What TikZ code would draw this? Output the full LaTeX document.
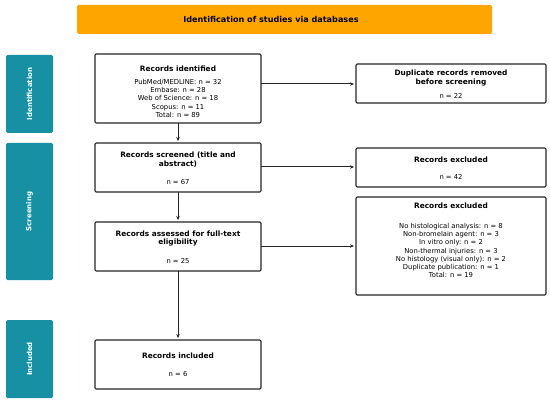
\documentclass[tikz,border=0pt]{standalone}
\usepackage{fontspec}
\setmainfont{DejaVu Sans}
\usetikzlibrary{arrows.meta}
\definecolor{teal1}{HTML}{1690A2}
\definecolor{orange1}{HTML}{FFA500}
\tikzset{
  box/.style={draw=black!85, line width=1.1pt, rounded corners=1.2pt, fill=white},
  sidebar/.style={fill=teal1, rounded corners=1.5pt},
  txt/.style={font=\fontsize{6.8}{8.3}\selectfont, align=center, inner sep=0pt},
  ttl/.style={font=\fontsize{7.4}{8.9}\selectfont\bfseries, align=center, inner sep=0pt},
  bttl/.style={font=\fontsize{8.1}{9.5}\selectfont\bfseries, align=center, inner sep=0pt},
  side/.style={font=\fontsize{7}{8}\selectfont\bfseries, text=white, rotate=90, inner sep=0pt},
  conn/.style={line width=1pt, draw=black!85, -{Stealth[length=4pt,width=3.5pt]}, shorten >=2pt}
}
\begin{document}
\begin{tikzpicture}[x=1pt,y=-1pt]
\useasboundingbox (0,0) rectangle (550,404);
% banner
\fill[orange1, rounded corners=1.5pt] (77,5) rectangle (492,34);
\node[bttl] (banner) at (271,19.5) {Identification of studies via databases};
% side bars
\fill[sidebar] (6,55) rectangle (53,133);
\node[side] (sid) at (29.5,94) {Identification};
\fill[sidebar] (6,143) rectangle (53,280);
\node[side] (ssc) at (29.5,211.5) {Screening};
\fill[sidebar] (6,320) rectangle (53,398);
\node[side] (sin) at (29.5,359) {Included};
% boxes
\draw[box] (95,54) rectangle (261,123);
\node[ttl] (t1) at (178,69) {Records identified};
\node[txt] (l1) at (178,98.2) {PubMed/MEDLINE: n = 32\\Embase: n = 28\\Web of Science: n = 18\\Scopus: n = 11\\Total: n = 89};

\draw[box] (356,64) rectangle (546,103);
\node[ttl] (t2) at (451,78) {Duplicate records removed\\before screening};
\node[txt] (l2) at (451,96) {n = 22};

\draw[box] (95,143) rectangle (261,192);
\node[ttl] (t3) at (178,159.5) {Records screened (title and\\abstract)};
\node[txt] (l3) at (178,182) {n = 67};

\draw[box] (356,148) rectangle (546,187);
\node[ttl] (t4) at (451,160) {Records excluded};
\node[txt] (l4) at (451,177) {n = 42};

\draw[box] (95,222) rectangle (261,271);
\node[ttl] (t5) at (178,238.5) {Records assessed for full-text\\eligibility};
\node[txt] (l5) at (178,261) {n = 25};

\draw[box] (356,197) rectangle (546,295);
\node[ttl] (t6) at (451,206) {Records excluded};
\node[txt] (l6) at (451,250.5) {No histological analysis: n = 8\\Non-bromelain agent: n = 3\\In vitro only: n = 2\\Non-thermal injuries: n = 3\\No histology (visual only): n = 2\\Duplicate publication: n = 1\\Total: n = 19};

\draw[box] (95,340) rectangle (261,389);
\node[ttl] (t7) at (178,356) {Records included};
\node[txt] (l7) at (178,374) {n = 6};

% anchors on box edges
\coordinate (b1s) at (178,123);
\coordinate (b2n) at (178,143);
\coordinate (b2s) at (178,192);
\coordinate (b3n) at (178,222);
\coordinate (b3s) at (178,271);
\coordinate (b4n) at (178,340);
\coordinate (b1e) at (261,84);
\coordinate (d1w) at (356,84);
\coordinate (b2e) at (261,167);
\coordinate (e1w) at (356,167);
\coordinate (b3e) at (261,246);
\coordinate (e2w) at (356,246);

\draw[conn] (b1s) -- (b2n);
\draw[conn] (b2s) -- (b3n);
\draw[conn] (b3s) -- (b4n);
\draw[conn] (b1e) -- (d1w);
\draw[conn] (b2e) -- (e1w);
\draw[conn] (b3e) -- (e2w);
\end{tikzpicture}
\end{document}
